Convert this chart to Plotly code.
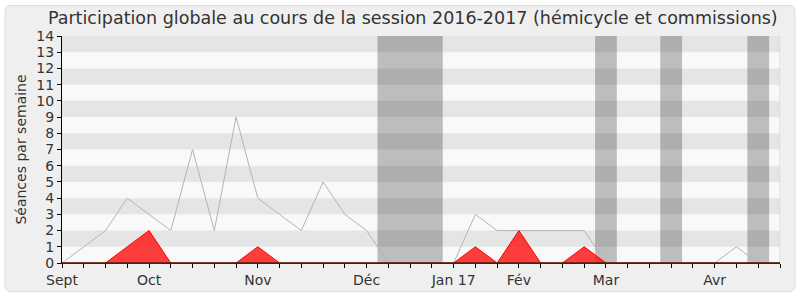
import plotly.graph_objects as go

weeks = list(range(34))
total = [0, 1, 2, 4, 3, 2, 7, 2, 9, 4, 3, 2, 5, 3, 2, 0, 0, 0, 0, 3, 2, 2, 2, 2, 2, 0, 0, 0, 0, 0, 0, 1, 0, 0]
hemicycle = [0, 0, 0, 1, 2, 0, 0, 0, 0, 1, 0, 0, 0, 0, 0, 0, 0, 0, 0, 1, 0, 2, 0, 0, 1, 0, 0, 0, 0, 0, 0, 0, 0, 0]
questions = [0] * 34
month_labels = {0: "Sept", 4: "Oct", 9: "Nov", 14: "Déc", 18: "Jan 17", 21: "Fév", 25: "Mar", 30: "Avr"}
vacations = [(14.5, 17.5), (24.5, 25.5), (27.5, 28.5), (31.5, 32.5)]
y_max = 14
x_max = 33

W, H = 800, 300
ml, mr, mt, mb = 62, 20, 36, 34
pw, ph = W - ml - mr, H - mt - mb

def px_x(p):
    return (p - ml) / pw

def px_y(p):
    return (H - mb - p) / ph

shapes = []
# outer rounded frame
x0, x1, y0, y1 = px_x(5), px_x(795), px_y(5), px_y(295)
rx, ry = 6 / pw, 6 / ph
path = (f"M {x0+rx},{y0} L {x1-rx},{y0} Q {x1},{y0} {x1},{y0-ry} "
        f"L {x1},{y1+ry} Q {x1},{y1} {x1-rx},{y1} L {x0+rx},{y1} "
        f"Q {x0},{y1} {x0},{y1+ry} L {x0},{y0-ry} Q {x0},{y0} {x0+rx},{y0} Z")
shapes.append(dict(type="path", path=path, xref="paper", yref="paper", layer="below",
                   fillcolor="#efefef", line=dict(color="#dcdcdc", width=1)))
# plot background
shapes.append(dict(type="rect", xref="x", yref="y", x0=0, x1=x_max, y0=0, y1=y_max,
                   fillcolor="#f9f9f9", line=dict(width=0), layer="below"))
for a, b in vacations:
    shapes.append(dict(type="rect", xref="x", yref="y", x0=a, x1=b, y0=0, y1=y_max,
                       fillcolor="#bdbdbd", line=dict(width=0), layer="below"))
for k in range(1, y_max, 2):
    shapes.append(dict(type="rect", xref="x", yref="y", x0=0, x1=x_max, y0=k, y1=k + 1,
                       fillcolor="rgba(0,0,0,0.08)", line=dict(width=0), layer="below"))
# light right border of plot area
shapes.append(dict(type="line", xref="x", yref="y", x0=x_max, x1=x_max, y0=0, y1=y_max,
                   line=dict(color="#d0d0d0", width=1), layer="below"))

fig = go.Figure()
fig.add_trace(go.Scatter(x=weeks, y=total, mode="lines",
                         line=dict(color="#b4b4b4", width=1), hoverinfo="skip"))
fig.add_trace(go.Scatter(x=weeks, y=hemicycle, mode="lines", fill="tozeroy",
                         fillcolor="rgba(255,20,20,0.82)",
                         line=dict(color="#ff0000", width=1), hoverinfo="skip"))
fig.add_trace(go.Scatter(x=weeks, y=questions, mode="lines",
                         line=dict(color="#4a2410", width=1.5), hoverinfo="skip"))

font = "DejaVu Sans, Verdana, sans-serif"
fig.update_layout(
    width=W, height=H,
    margin=dict(l=ml, r=mr, t=mt, b=mb),
    paper_bgcolor="white", plot_bgcolor="rgba(0,0,0,0)",
    showlegend=False,
    shapes=shapes,
    font=dict(family=font, color="#333333"),
    title=dict(text="Participation globale au cours de la session 2016-2017 (hémicycle et commissions)",
               x=0.516, xanchor="center", y=0.94, yanchor="middle",
               font=dict(size=17.5, family=font, color="#333333")),
    xaxis=dict(range=[0, x_max], tickvals=weeks,
               ticktext=[month_labels.get(w, "") for w in weeks],
               ticks="outside", ticklen=4, tickcolor="#000", showgrid=False, zeroline=False,
               showline=True, linecolor="#4a1e0e", linewidth=1, layer="above traces",
               tickfont=dict(size=14, family=font, color="#333333")),
    yaxis=dict(range=[0, y_max], tickvals=list(range(y_max + 1)),
               ticks="outside", ticklen=4, tickcolor="#000", showgrid=False, zeroline=False,
               showline=True, linecolor="#000", linewidth=1,
               title=dict(text="Séances par semaine", standoff=6,
                          font=dict(size=14, family=font, color="#333333")),
               tickfont=dict(size=14, family=font, color="#333333")),
)
fig.write_html("out.html")
